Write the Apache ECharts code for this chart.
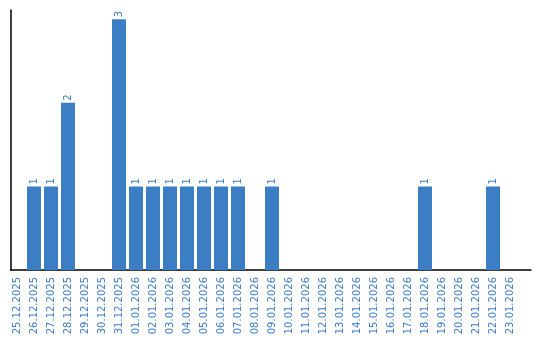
<!DOCTYPE html>
<html><head><meta charset="utf-8">
<script src="https://cdn.jsdelivr.net/npm/echarts@6/dist/echarts.min.js"></script>
<style>html,body{margin:0;padding:0;background:#fff}#c{width:540px;height:340px}</style>
</head><body><div id="c"></div>
<script>
const categories = ["25.12.2025","26.12.2025","27.12.2025","28.12.2025","29.12.2025","30.12.2025","31.12.2025","01.01.2026","02.01.2026","03.01.2026","04.01.2026","05.01.2026","06.01.2026","07.01.2026","08.01.2026","09.01.2026","10.01.2026","11.01.2026","12.01.2026","13.01.2026","14.01.2026","15.01.2026","16.01.2026","17.01.2026","18.01.2026","19.01.2026","20.01.2026","21.01.2026","22.01.2026","23.01.2026"];
const values = [0,1,1,2,0,0,3,1,1,1,1,1,1,1,0,1,0,0,0,0,0,0,0,0,1,0,0,0,1,0];

const blue = '#3b7ec4';
const txt = '#3b7cc6';
const font = 'DejaVu Sans';
const chart = echarts.init(document.getElementById('c'));
chart.setOption({
  animation: false,
  grid: [
    {left: 8.5, width: 510, top: 10, bottom: 70},
    {left: 10.5, right: 9, top: 10, bottom: 70}
  ],
  xAxis: [
    {type: 'category', gridIndex: 0, data: categories,
     axisLine: {show: false}, axisTick: {show: false},
     axisLabel: {rotate: 90, interval: 0, margin: 7, color: txt, fontFamily: font, fontSize: 10}},
    {type: 'category', gridIndex: 1, data: [''],
     axisLine: {show: true, lineStyle: {color: '#000', width: 1.5}}, axisTick: {show: false}, axisLabel: {show: false}}
  ],
  yAxis: [
    {type: 'value', gridIndex: 0, min: 0, max: 3.11, splitLine: {show: false},
     axisLine: {show: false}, axisTick: {show: false}, axisLabel: {show: false}},
    {type: 'value', gridIndex: 1, min: 0, max: 1, splitLine: {show: false},
     axisLine: {show: true, lineStyle: {color: '#000', width: 1.5}}, axisTick: {show: false}, axisLabel: {show: false}}
  ],
  series: [{
    type: 'bar', xAxisIndex: 0, yAxisIndex: 0,
    data: values.map(v => ({value: v, label: {show: v > 0}})),
    barWidth: 14,
    itemStyle: {color: blue},
    label: {position: 'top', rotate: 90, align: 'left', verticalAlign: 'middle', distance: 2,
            color: txt, fontFamily: font, fontSize: 10}
  }]
});
</script></body></html>
